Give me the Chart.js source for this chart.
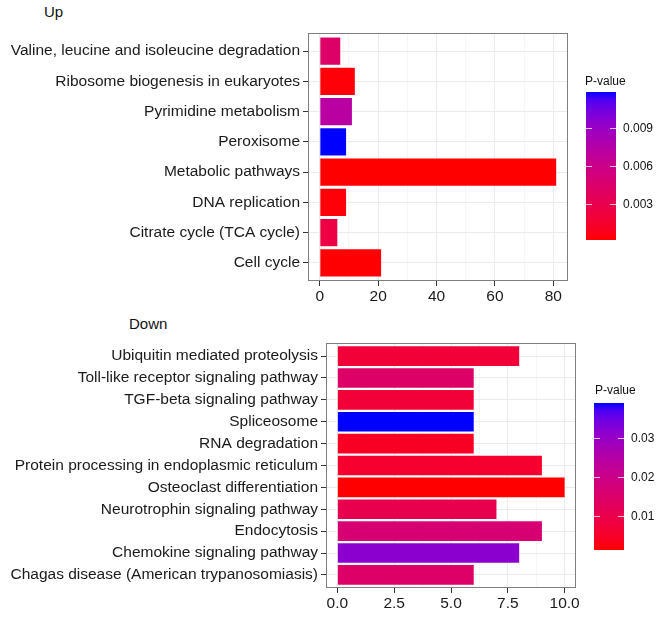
<!DOCTYPE html>
<html>
<head>
<meta charset="utf-8">
<script src="https://cdn.jsdelivr.net/npm/chart.js@4.4.1/dist/chart.umd.min.js"></script>
<style>
  body { margin: 0; background: #fff; width: 661px; height: 618px; position: relative; overflow: hidden;
         font-family: "Liberation Sans", Arial, sans-serif; }
  canvas { position: absolute; left: 0; }
  .ttl { position: absolute; font-size: 15px; color: #111; line-height: 16px; }
</style>
</head>
<body>
<div class="ttl" style="left:44px;top:4px">Up</div>
<div class="ttl" style="left:129px;top:316px">Down</div>
<canvas id="upChart" width="661" height="312" style="top:0"></canvas>
<canvas id="downChart" width="661" height="306" style="top:312px"></canvas>
<script>
// Up-regulated pathways, listed top to bottom as in the figure
const upPathways = [
  "Valine, leucine and isoleucine degradation",
  "Ribosome biogenesis in eukaryotes",
  "Pyrimidine metabolism",
  "Peroxisome",
  "Metabolic pathways",
  "DNA replication",
  "Citrate cycle (TCA cycle)",
  "Cell cycle"
];
const upCounts = [7, 12, 11, 9, 81, 9, 6, 21];
const upPvalues = [0.0042, 0.0003, 0.0072, 0.0118, 0.00016, 0.0003, 0.0025, 0.0002];
const upXTicks = [0, 20, 40, 60, 80];
const upLegendTicks = [0.003, 0.006, 0.009];
const upLegendLabels = ["0.003", "0.006", "0.009"];

// Down-regulated pathways
const downPathways = [
  "Ubiquitin mediated proteolysis",
  "Toll-like receptor signaling pathway",
  "TGF-beta signaling pathway",
  "Spliceosome",
  "RNA degradation",
  "Protein processing in endoplasmic reticulum",
  "Osteoclast differentiation",
  "Neurotrophin signaling pathway",
  "Endocytosis",
  "Chemokine signaling pathway",
  "Chagas disease (American trypanosomiasis)"
];
const downCounts = [8, 6, 6, 6, 6, 9, 10, 7, 9, 8, 6];
const downPvalues = [0.0070, 0.0145, 0.0070, 0.0390, 0.0043, 0.0058, 0.0013, 0.0107, 0.0164, 0.0315, 0.0145];
const downXTicks = [0, 2.5, 5, 7.5, 10];
const downLegendTicks = [0.01, 0.02, 0.03];
const downLegendLabels = ["0.01", "0.02", "0.03"];

const FONT = "'Liberation Sans', Arial, sans-serif";

// --- red -> blue gradient interpolated in CIELAB (like ggplot's scale_fill_gradient)
function toLin(c) { c /= 255; return c <= 0.04045 ? c / 12.92 : Math.pow((c + 0.055) / 1.055, 2.4); }
function fromLin(c) {
  c = c <= 0.0031308 ? 12.92 * c : 1.055 * Math.pow(c, 1 / 2.4) - 0.055;
  return Math.round(Math.max(0, Math.min(1, c)) * 255);
}
function rgbToLab(r, g, b) {
  r = toLin(r); g = toLin(g); b = toLin(b);
  let x = (0.4124 * r + 0.3576 * g + 0.1805 * b) / 0.95047;
  let y = 0.2126 * r + 0.7152 * g + 0.0722 * b;
  let z = (0.0193 * r + 0.1192 * g + 0.9505 * b) / 1.08883;
  const f = t => t > 0.008856 ? Math.cbrt(t) : 7.787 * t + 16 / 116;
  const fx = f(x), fy = f(y), fz = f(z);
  return [116 * fy - 16, 500 * (fx - fy), 200 * (fy - fz)];
}
function labToRgb(L, a, bb) {
  const fy = (L + 16) / 116, fx = fy + a / 500, fz = fy - bb / 200;
  const fi = t => t ** 3 > 0.008856 ? t ** 3 : (t - 16 / 116) / 7.787;
  const x = fi(fx) * 0.95047, y = fi(fy), z = fi(fz) * 1.08883;
  const r = 3.2406 * x - 1.5372 * y - 0.4986 * z;
  const g = -0.9689 * x + 1.8758 * y + 0.0415 * z;
  const b = 0.0557 * x - 0.2040 * y + 1.0570 * z;
  return "rgb(" + fromLin(r) + "," + fromLin(g) + "," + fromLin(b) + ")";
}
const LOW = rgbToLab(255, 0, 0), HIGH = rgbToLab(0, 0, 255);
function rampColor(t) {
  return labToRgb(LOW[0] + (HIGH[0] - LOW[0]) * t, LOW[1] + (HIGH[1] - LOW[1]) * t, LOW[2] + (HIGH[2] - LOW[2]) * t);
}
function colorsFor(pvals) {
  const lo = Math.min(...pvals), hi = Math.max(...pvals);
  return pvals.map(p => rampColor((p - lo) / (hi - lo)));
}

// panel border like theme_bw
const panelBorder = {
  id: "panelBorder",
  afterDraw(chart) {
    const a = chart.chartArea, ctx = chart.ctx;
    ctx.save();
    ctx.strokeStyle = "#7f7f7f";
    ctx.lineWidth = 1;
    ctx.strokeRect(a.left + 0.5, a.top + 0.5, a.right - a.left - 1, a.bottom - a.top - 1);
    ctx.restore();
  }
};

// continuous colour bar legend
const colorBar = {
  id: "colorBar",
  afterDraw(chart, args, o) {
    const ctx = chart.ctx;
    const lo = Math.min(...o.values), hi = Math.max(...o.values);
    const grad = ctx.createLinearGradient(0, o.bottom, 0, o.top);
    for (let i = 0; i <= 20; i++) grad.addColorStop(i / 20, rampColor(i / 20));
    ctx.save();
    ctx.fillStyle = grad;
    ctx.fillRect(o.x, o.top, o.width, o.bottom - o.top);
    ctx.font = "12px " + FONT;
    ctx.fillStyle = "#111";
    ctx.textBaseline = "middle";
    ctx.textAlign = "left";
    ctx.fillText("P-value", o.titleX, o.titleY);
    o.ticks.forEach((v, i) => {
      const y = Math.round(o.bottom - (v - lo) / (hi - lo) * (o.bottom - o.top)) + 0.5;
      ctx.strokeStyle = "rgba(255,255,255,0.75)";
      ctx.lineWidth = 1;
      ctx.beginPath();
      ctx.moveTo(o.x, y); ctx.lineTo(o.x + 6, y);
      ctx.moveTo(o.x + o.width - 6, y); ctx.lineTo(o.x + o.width, y);
      ctx.stroke();
      ctx.fillStyle = "#111";
      ctx.fillText(o.labels[i], o.x + o.width + 7, y);
    });
    ctx.restore();
  }
};

function makePanel(id, names, counts, pvals, xTicks, xMin, xMax, dims, legend) {
  const n = names.length;
  const pos = names.map((_, i) => n - i);
  const minor = xTicks.slice(1).map((v, i) => (v + xTicks[i]) / 2);
  const majorSet = new Set(xTicks);
  return new Chart(document.getElementById(id), {
    type: "bar",
    data: {
      datasets: [{
        data: counts.map((c, i) => ({ x: c, y: pos[i] })),
        backgroundColor: colorsFor(pvals),
        borderWidth: 0,
        barPercentage: 0.9,
        categoryPercentage: 1.0
      }]
    },
    options: {
      indexAxis: "y",
      responsive: false,
      animation: false,
      layout: { padding: { left: 0, top: dims.top, right: dims.right, bottom: 0 } },
      plugins: {
        legend: { display: false },
        tooltip: { enabled: false },
        colorBar: Object.assign({ values: pvals }, legend)
      },
      scales: {
        x: {
          type: "linear",
          min: xMin,
          max: xMax,
          afterBuildTicks: s => { s.ticks = xTicks.concat(minor).sort((a, b) => a - b).map(v => ({ value: v })); },
          afterFit: s => { s.height = dims.xHeight; },
          grid: {
            color: c => majorSet.has(c.tick && c.tick.value) ? "#ebebeb" : "#f6f6f6",
            tickColor: c => majorSet.has(c.tick && c.tick.value) ? "#333" : "rgba(0,0,0,0)",
            tickLength: 5,
            drawTicks: true
          },
          border: { display: false },
          ticks: {
            autoSkip: false,
            maxRotation: 0,
            padding: 1,
            color: "#1a1a1a",
            font: { family: FONT, size: 15.5 },
            callback: v => majorSet.has(v) ? (xMax < 20 ? v.toFixed(1) : String(v)) : ""
          }
        },
        y: {
          type: "linear",
          offset: false,
          min: 0.4,
          max: n + 0.6,
          afterBuildTicks: s => { s.ticks = pos.map(v => ({ value: v })); },
          afterFit: s => { s.width = dims.left; },
          grid: { offset: false, color: "#ebebeb", tickColor: "#333", tickLength: 5 },
          border: { display: false },
          ticks: {
            autoSkip: false,
            padding: 3,
            color: "#1a1a1a",
            font: { family: FONT, size: 15.5 },
            callback: v => names[n - v]
          }
        }
      }
    },
    plugins: [panelBorder, colorBar]
  });
}

makePanel("upChart", upPathways, upCounts, upPvalues, upXTicks, -4.05, 85.05,
  { left: 308, top: 33, right: 93, xHeight: 312 - 281 },
  { x: 586, width: 30, top: 92, bottom: 240, titleX: 585, titleY: 82,
    ticks: upLegendTicks, labels: upLegendLabels });

makePanel("downChart", downPathways, downCounts, downPvalues, downXTicks, -0.5, 10.5,
  { left: 326, top: 31, right: 85, xHeight: 306 - 276 },
  { x: 594, width: 30, top: 91, bottom: 238, titleX: 595, titleY: 79,
    ticks: downLegendTicks, labels: downLegendLabels });
</script>
</body>
</html>
